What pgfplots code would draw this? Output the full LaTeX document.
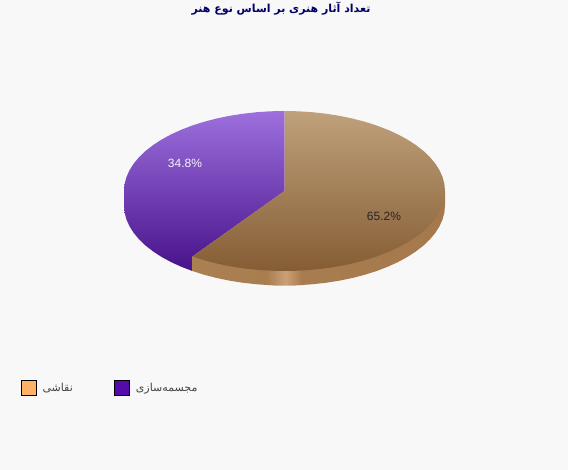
\documentclass[border=0pt]{standalone}
\usepackage{fontspec}
\setmainfont{Liberation Sans}
\newfontfamily\arabicfont[Script=Arabic]{DejaVu Sans}
\TeXXeTstate=1
\usepackage{pgfplots}
\pgfplotsset{compat=1.18}

\definecolor{pagebg}{RGB}{248,248,248}
\definecolor{titleblue}{RGB}{0,0,102}
\definecolor{legendtext}{RGB}{70,70,70}
\definecolor{tantop}{RGB}{191,161,123}
\definecolor{tanbottom}{RGB}{133,93,52}
\definecolor{tanside}{RGB}{170,127,81}
\definecolor{tansideb}{RGB}{165,121,75}
\definecolor{tanglow}{RGB}{203,160,118}
\definecolor{purpletop}{RGB}{157,112,222}
\definecolor{purplebottom}{RGB}{72,18,138}
\definecolor{legendtan}{RGB}{255,178,102}
\definecolor{legendpurple}{RGB}{85,10,170}

\begin{document}
\begin{tikzpicture}
\begin{axis}[
    scale only axis,
    width=568pt, height=470pt,
    xmin=0, xmax=568, ymin=0, ymax=470,
    y dir=reverse,
    hide axis,
    clip=false,
    title={\arabicfont\bfseries\fontsize{11}{13}\selectfont\color{titleblue}\beginR تعداد آثار هنری بر اساس نوع هنر\endR},
    title style={at={(axis cs:281,15)}, anchor=center, yshift=0pt, inner sep=0pt},
    legend style={at={(axis cs:20.5,388)}, anchor=west, draw=none, fill=none,
        inner sep=0pt, outer sep=0pt, legend columns=2,
        font=\arabicfont\fontsize{11}{13}\selectfont\color{legendtext},
        /tikz/every odd column/.append style={column sep=4pt},
        /tikz/every even column/.append style={column sep=39pt}},
    legend cell align=left,
    legend image code/.code={
        \draw[#1, line width=1pt] (0pt,-7.5pt) rectangle (15pt,7.5pt);
    },
]
% page background
\addplot[forget plot, fill=pagebg, draw=none] coordinates {(0,0)(568,0)(568,470)(0,470)} -- cycle;

% purple slice, top face and rim in one gradient
\addplot[forget plot, draw=none, top color=purpletop, bottom color=purplebottom] coordinates {
(284.5,191)(284.5,111)(270.51,111.30)(256.63,112.22)(242.96,113.73)(229.61,115.82)(216.67,118.5)
(204.25,121.72)(192.44,125.47)(181.33,129.72)(171.01,134.43)(161.55,139.58)(153.03,145.11)
(145.5,151)(139.04,157.19)(133.68,163.64)(129.47,170.29)(126.44,177.11)(124.61,184.03)(124,191)
(124,205.5)(124.61,212.47)(126.44,219.39)(129.47,226.21)(133.68,232.86)(139.04,239.31)(145.5,245.5)
(153.03,251.39)(161.55,256.92)(171.01,262.07)(181.33,266.78)(192.44,271.03)(192.44,256.53)
} -- cycle;

% tan slice, rim
\addplot[forget plot, draw=none, left color=tanside, right color=tansideb] coordinates {
(284.5,191)(445,191)(445,205.5)(444.39,212.47)(442.56,219.39)(439.53,226.21)(435.32,232.86)
(429.96,239.31)(423.5,245.5)(415.97,251.39)(407.45,256.92)(397.99,262.07)(387.67,266.78)
(376.56,271.03)(364.75,274.78)(352.33,278)(339.39,280.68)(326.04,282.77)(312.37,284.28)
(298.49,285.2)(284.5,285.5)(270.51,285.2)(256.63,284.28)(242.96,282.77)(229.61,280.68)
(216.67,278)(204.25,274.78)(192.44,271.03)(192.44,256.53)
} -- cycle;

% highlight on the rim
\addplot[forget plot, draw=none, left color=tanside, right color=tansideb, middle color=tanglow] coordinates {
(268,260)(303,260)(303,285.1)(298.49,285.2)(284.5,285.5)(270.51,285.2)(268,285.1)
} -- cycle;

% tan slice, top face
\addplot[forget plot, draw=none, top color=tantop, bottom color=tanbottom] coordinates {
(284.5,191)(284.5,111)(298.49,111.30)(312.37,112.22)(326.04,113.73)(339.39,115.82)(352.33,118.50)
(364.75,121.72)(376.56,125.47)(387.67,129.72)(397.99,134.43)(407.45,139.58)(415.97,145.11)
(423.5,151)(429.96,157.19)(435.32,163.64)(439.53,170.29)(442.56,177.11)(444.39,184.03)(445,191)
(444.39,197.97)(442.56,204.89)(439.53,211.71)(435.32,218.36)(429.96,224.81)(423.5,231)
(415.97,236.89)(407.45,242.42)(397.99,247.57)(387.67,252.28)(376.56,256.53)(364.75,260.28)
(352.33,263.5)(339.39,266.18)(326.04,268.27)(312.37,269.78)(298.49,270.70)(284.5,271)
(270.51,270.70)(256.63,269.78)(242.96,268.27)(229.61,266.18)(216.67,263.5)(204.25,260.28)
(192.44,256.53)
} -- cycle;

\node[font=\fontsize{12}{14}\selectfont, text=white!92!purpletop] at (axis cs:185,163.5) {34.8\%};
\node[font=\fontsize{12}{14}\selectfont, text=black!85] at (axis cs:384,216) {65.2\%};

\addlegendimage{fill=legendtan, draw=black}
\addlegendentry{\beginR نقاشی\endR}
\addlegendimage{fill=legendpurple, draw=black}
\addlegendentry{\beginR مجسمه^^^^200cسازی\endR}
\end{axis}
\end{tikzpicture}
\end{document}
